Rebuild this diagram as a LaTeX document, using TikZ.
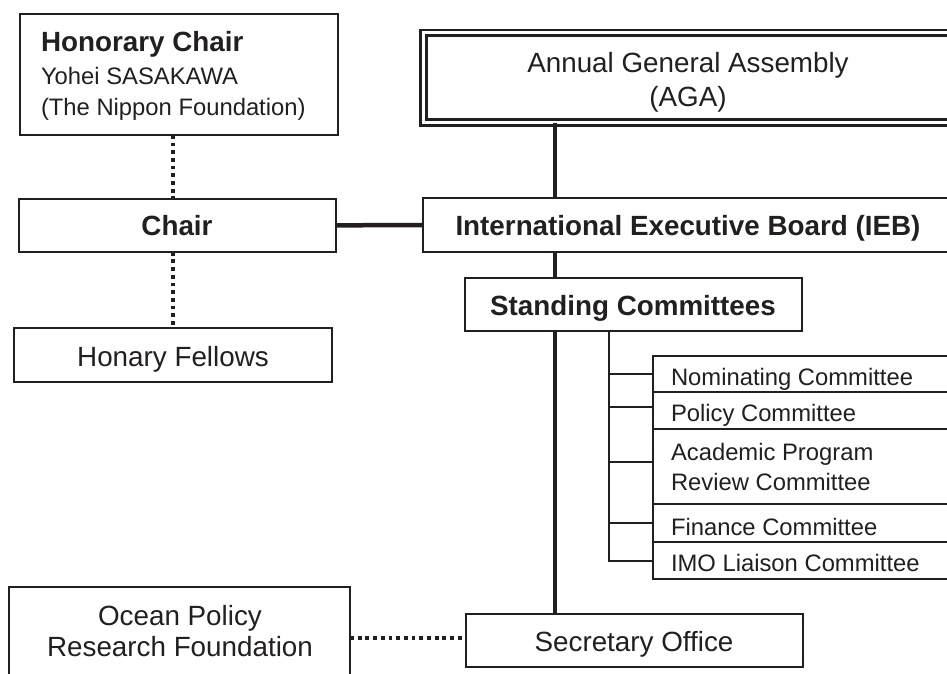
\documentclass[tikz,border=0pt]{standalone}
\usepackage{fontspec}
\setmainfont{Liberation Sans}
\definecolor{ink}{RGB}{35,31,32}
\tikzset{
  box/.style={draw=ink, line width=2pt, rectangle, outer sep=0pt, inner sep=0pt, anchor=north west},
  big/.style={font=\fontsize{27.8}{33}\selectfont, text=ink, inner sep=0pt, outer sep=0pt},
  bigb/.style={font=\fontsize{27.8}{33}\selectfont\bfseries, text=ink, inner sep=0pt, outer sep=0pt},
  small/.style={font=\fontsize{23.8}{28}\selectfont, text=ink, inner sep=0pt, outer sep=0pt},
  trunk/.style={draw=ink, line width=4pt},
  twig/.style={draw=ink, line width=2pt},
  dots/.style={draw=ink, line width=3.8pt, dash pattern=on 3.8pt off 3.9pt},
}
\begin{document}
\begin{tikzpicture}[x=1pt,y=-1pt]
\useasboundingbox (0,0) rectangle (947,673);
\fill[white] (0,0) rectangle (947,673);
\clip (0,0) rectangle (947,673);

% boxes
\node[box, minimum width=317.7pt, minimum height=120.5pt] (hc) at (20.3,14.3) {};
\node[box, minimum width=317.5pt, minimum height=52.7pt] (chair) at (18.5,199) {};
\node[box, minimum width=317.7pt, minimum height=53.4pt] (hf) at (14.3,328.3) {};
\node[box, line width=2.7pt, double=white, double distance=3pt, minimum width=600pt, minimum height=89.6pt] (aga) at (423.65,32.9) {};
\node[box, minimum width=560pt, minimum height=53.4pt] (ieb) at (422.7,198.3) {};
\node[box, minimum width=337pt, minimum height=53.3pt] (sc) at (465,277.7) {};
\node[box, minimum width=346.7pt, minimum height=35.7pt] (c1) at (653.3,356) {};
\node[box, minimum width=346.7pt, minimum height=37.6pt] (c2) at (653.3,391.7) {};
\node[box, minimum width=346.7pt, minimum height=75pt] (c3) at (653.3,429.3) {};
\node[box, minimum width=346.7pt, minimum height=37.4pt] (c4) at (653.3,504.3) {};
\node[box, minimum width=346.7pt, minimum height=37.6pt] (c5) at (653.3,541.7) {};
\node[box, minimum width=337.3pt, minimum height=53.3pt] (sec) at (465.7,614) {};
\node[box, minimum width=341pt, minimum height=130pt] (oprf) at (9,586.7) {};

% texts
\node[bigb, anchor=base west] (hct1) at (41,51.7) {Honorary Chair};
\node[small, anchor=base west] (hct2) at (41,84) {Yohei SASAKAWA};
\node[small, anchor=base west] (hct3) at (41,115) {(The Nippon Foundation)};
\node[bigb, anchor=base] (chairt) at (177,235.7) {Chair};
\node[big, anchor=base] (hft) at (173,366) {Honary Fellows};
\node[big, anchor=base] (agat1) at (688,72.5) {Annual General Assembly};
\node[big, anchor=base] (agat2) at (688,106) {(AGA)};
\node[bigb, anchor=base] (iebt) at (688,235) {International Executive Board (IEB)};
\node[bigb, anchor=base] (sct) at (633,315) {Standing Committees};
\node[small, anchor=base west] (c1t) at (671,385) {Nominating Committee};
\node[small, anchor=base west] (c2t) at (671,421.7) {Policy Committee};
\node[small, anchor=base west] (c3t) at (671,460) {Academic Program};
\node[small, anchor=base west] (c3u) at (671,490.7) {Review Committee};
\node[small, anchor=base west] (c4t) at (671,535) {Finance Committee};
\node[small, anchor=base west] (c5t) at (671,571.7) {IMO Liaison Committee};
\node[big, anchor=base] (sect) at (634,651) {Secretary Office};
\node[big, anchor=base] (oprft1) at (180,625) {Ocean Policy};
\node[big, anchor=base] (oprft2) at (180,656.7) {Research Foundation};

% connectors
\coordinate (tx) at (554.5,0);
\coordinate (bx) at (609,0);
\draw[dots] (hf.north |- hc.south) -- (hf.north |- chair.north);
\draw[dots] (hf.north |- chair.south) -- (hf.north);
\draw[trunk, line width=4.5pt] (chair.east) -- (ieb.west);
\draw[trunk] (tx |- aga.south) -- (tx |- ieb.north);
\draw[trunk] (tx |- ieb.south) -- (tx |- sc.north);
\draw[trunk] (tx |- sc.south) -- (tx |- sec.north);
\draw[twig] (bx |- sc.south) -- (bx |- c5.west) -- (c5.west);
\draw[twig] (bx |- c1.west) -- (c1.west);
\draw[twig] ([yshift=4pt]bx |- c2.west) -- ([yshift=4pt]c2.west);
\draw[twig] ([yshift=5pt]bx |- c3.west) -- ([yshift=5pt]c3.west);
\draw[twig] (bx |- c4.west) -- (c4.west);
\draw[dots] ([yshift=3pt]oprf.east |- sec.west) -- ([yshift=3pt]sec.west);
\end{tikzpicture}
\end{document}
